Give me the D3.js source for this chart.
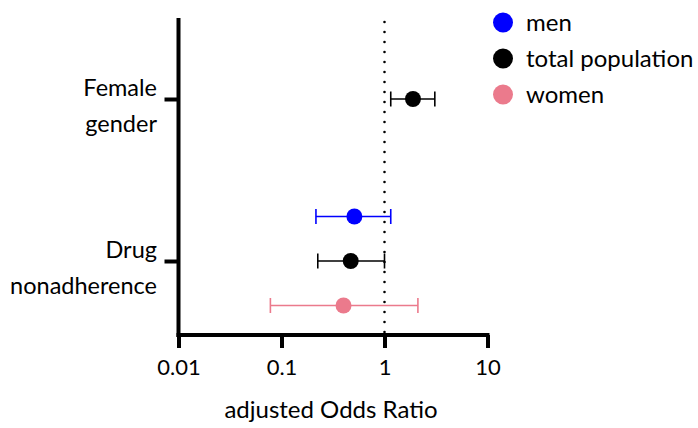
<!DOCTYPE html>
<html>
<head>
<meta charset="utf-8">
<script src="https://cdn.jsdelivr.net/npm/d3@7"></script>
<style>
  body { margin: 0; background: #fff; }
  text { font-family: Lato, "Noto Sans", sans-serif; fill: #000; }
</style>
</head>
<body>
<svg id="chart" width="698" height="428"></svg>
<script>
  // categories on the y axis, each label split in two lines
  var categories = ["Female gender", "Drug nonadherence"];
  var categoryLines = [["Female", "gender"], ["Drug", "nonadherence"]];

  // series: name, colour, offset slot (-1 above, 0 on, 1 below)
  var seriesNames = ["men", "total population", "women"];
  var seriesColors = ["#0000ff", "#000000", "#eb7a8c"];
  var seriesSlots = [-1, 0, 1];

  // adjusted odds ratios with 95% CI, per series per category (null = no estimate)
  var orMen   = [null, 0.51];
  var loMen   = [null, 0.216];
  var hiMen   = [null, 1.15];
  var orTotal = [1.89, 0.47];
  var loTotal = [1.15, 0.225];
  var hiTotal = [3.08, 1.0];
  var orWomen = [null, 0.40];
  var loWomen = [null, 0.078];
  var hiWomen = [null, 2.11];

  var xTicks = [0.01, 0.1, 1, 10];
  var xTickLabels = ["0.01", "0.1", "1", "10"];
  var refValue = 1;

  var svg = d3.select("#chart");

  var x = d3.scaleLog().domain([0.01, 10]).range([178.5, 487.5]);
  var y = d3.scalePoint().domain(categories).range([99, 261]);
  var slotOffset = 44.5;
  var yTop = 18, yBottom = 335;

  var rows = [];
  var ors = [orMen, orTotal, orWomen], los = [loMen, loTotal, loWomen], his = [hiMen, hiTotal, hiWomen];
  for (var s = 0; s < seriesNames.length; s++) {
    for (var c = 0; c < categories.length; c++) {
      if (ors[s][c] == null) continue;
      rows.push({
        cat: categories[c], s: s,
        or: ors[s][c], lo: los[s][c], hi: his[s][c]
      });
    }
  }
  function rowY(d) { return y(d.cat) + seriesSlots[d.s] * slotOffset; }

  // reference line at OR = 1
  svg.append("line")
    .attr("x1", x(refValue)).attr("x2", x(refValue))
    .attr("y1", yTop + 4).attr("y2", yBottom)
    .attr("stroke", "#000")
    .attr("stroke-width", 2.6)
    .attr("stroke-linecap", "round")
    .attr("stroke-dasharray", "0,10");

  // x axis
  var xAxis = d3.axisBottom(x)
    .tickValues(xTicks)
    .tickFormat(function(d, i) { return xTickLabels[i]; })
    .tickSize(13)
    .tickSizeOuter(0)
    .tickPadding(10);
  var gx = svg.append("g").attr("transform", "translate(0," + yBottom + ")").call(xAxis);
  gx.select(".domain").remove();
  gx.selectAll(".tick line").attr("stroke", "#000").attr("stroke-width", 4);
  gx.selectAll(".tick text").attr("font-size", 22).attr("dy", "0.78em");
  svg.append("line")
    .attr("x1", x(0.01) - 2).attr("x2", x(10) + 2)
    .attr("y1", yBottom).attr("y2", yBottom)
    .attr("stroke", "#000").attr("stroke-width", 4);

  // y axis
  var yAxis = d3.axisLeft(y).tickSize(14).tickFormat("");
  var gy = svg.append("g").attr("transform", "translate(" + x(0.01) + ",0)").call(yAxis);
  gy.select(".domain").remove();
  gy.selectAll(".tick line").attr("stroke", "#000").attr("stroke-width", 4);
  svg.append("line")
    .attr("x1", x(0.01)).attr("x2", x(0.01))
    .attr("y1", yTop).attr("y2", yBottom + 2)
    .attr("stroke", "#000").attr("stroke-width", 4);

  // category labels (two lines, right aligned)
  var labels = svg.append("g").selectAll("text").data(categories).enter()
    .append("text")
    .attr("text-anchor", "end")
    .attr("font-size", 23.5)
    .attr("x", 157)
    .attr("y", function(d) { return y(d) - 3; });
  labels.selectAll("tspan")
    .data(function(d, i) { return categoryLines[i]; })
    .enter().append("tspan")
    .attr("x", 157)
    .attr("dy", function(d, i) { return i == 0 ? 0 : 36; })
    .text(function(d) { return d; });

  // axis title
  svg.append("text")
    .attr("x", 331).attr("y", 418)
    .attr("text-anchor", "middle")
    .attr("font-size", 24)
    .text("adjusted Odds Ratio");

  // error bars
  var bars = svg.append("g").selectAll("g.bar").data(rows).enter()
    .append("g").attr("class", "bar")
    .attr("stroke", function(d) { return seriesColors[d.s]; })
    .attr("stroke-width", 1.6);
  bars.append("line")
    .attr("x1", function(d) { return x(d.lo); })
    .attr("x2", function(d) { return x(d.hi); })
    .attr("y1", rowY).attr("y2", rowY);
  bars.append("line")
    .attr("x1", function(d) { return x(d.lo); })
    .attr("x2", function(d) { return x(d.lo); })
    .attr("y1", function(d) { return rowY(d) - 7.5; })
    .attr("y2", function(d) { return rowY(d) + 7.5; });
  bars.append("line")
    .attr("x1", function(d) { return x(d.hi); })
    .attr("x2", function(d) { return x(d.hi); })
    .attr("y1", function(d) { return rowY(d) - 7.5; })
    .attr("y2", function(d) { return rowY(d) + 7.5; });

  // points
  svg.append("g").selectAll("circle").data(rows).enter()
    .append("circle")
    .attr("cx", function(d) { return x(d.or); })
    .attr("cy", rowY)
    .attr("r", 8)
    .attr("fill", function(d) { return seriesColors[d.s]; });

  // legend
  var legend = svg.append("g").selectAll("g").data(seriesNames).enter()
    .append("g")
    .attr("transform", function(d, i) { return "translate(503," + (22.5 + i * 36) + ")"; });
  legend.append("circle")
    .attr("r", 10)
    .attr("fill", function(d, i) { return seriesColors[i]; });
  legend.append("text")
    .attr("x", 23)
    .attr("y", 8)
    .attr("font-size", 24)
    .text(function(d) { return d; });
</script>
</body>
</html>
